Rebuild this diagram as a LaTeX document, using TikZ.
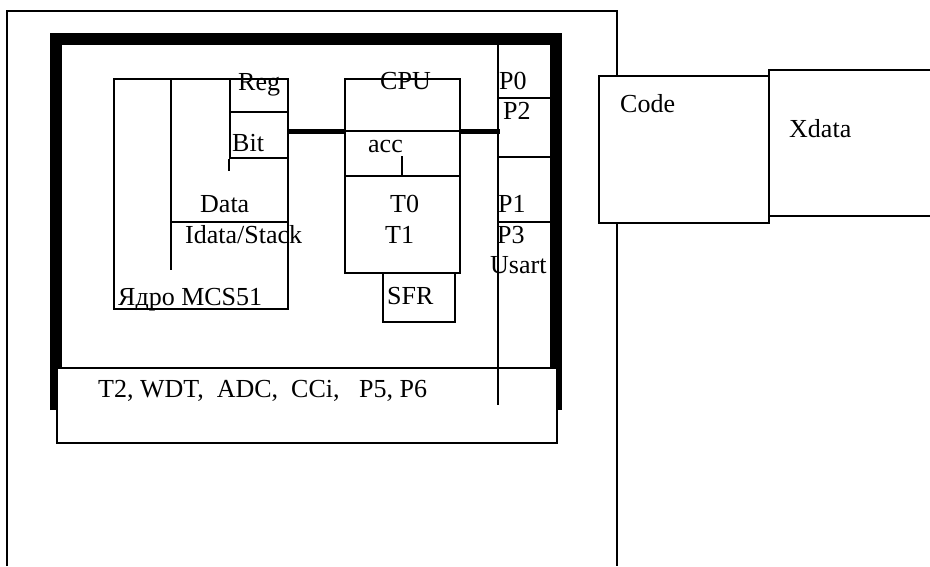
\documentclass[tikz,border=0pt]{standalone}
\usepackage{fontspec}
\setmainfont{Liberation Serif}
\usetikzlibrary{positioning,calc}

\begin{document}
\begin{tikzpicture}[x=1pt, y=-1pt,
    blk/.style={rectangle, draw, line width=1.5pt, fill=white, inner sep=0pt, anchor=north west},
    lbl/.style={inner sep=0pt, anchor=base west, font=\fontsize{26}{28}\selectfont},
    wire/.style={line width=1.5pt},
    bus/.style={line width=5pt},
    rim/.style={line width=12pt}
]
\useasboundingbox (0,0) rectangle (930,566);

% Plata (open at the bottom)
\draw[wire] (7,566) |- (617,11) -- (617,566);

% === MICROCONTROLLER ===
\draw[rim] (56,410) |- (555.5,39) -- (555.5,410);
\node (periph) [blk, minimum width=500pt, minimum height=75pt] at (56,367) {};
\node (tPeriph) [lbl] at (98,397) {T2, WDT,\ \ ADC,\ \ CCi,\ \ \ P5, P6};

% === CORE MEMORY ===
\node (core) [blk, minimum width=174pt, minimum height=230pt] at (113,78) {};
\node (reg) [blk, minimum width=58pt, minimum height=33pt] at (229,78) {};
\node (bit) [blk, minimum width=58pt, minimum height=46pt] at (229,111) {};
\draw[wire] (bit.south west) -- ++(0,12);
\draw[wire] (171,78) -- (171,270);
\draw[wire] (171,222) -- (core.east |- 0,222);

\node (tReg) [lbl] at (238,90) {Reg};
\node (tBit) [lbl] at (232,151) {Bit};
\node (tData) [lbl] at (200,212) {Data};
\node (tIdata) [lbl] at (185,243) {Idata/Stack};
\node (tCore) [lbl] at (118,305) {Ядро MCS51};

% === CPU ===
\node (cpu) [blk, minimum width=115pt, minimum height=194pt] at (344,78) {};
\draw[wire] (cpu.west |- 0,131) -- (cpu.east |- 0,131);
\draw[wire] (cpu.west |- 0,176) -- (cpu.east |- 0,176);
\draw[wire] (402,156) -- (402,176);
\node (sfr) [blk, minimum width=72pt, minimum height=49pt] at (382,272) {};

\node (tCpu) [lbl] at (380,89) {CPU};
\node (tAcc) [lbl] at (368,152) {acc};
\node (tT0) [lbl] at (390,212) {T0};
\node (tT1) [lbl] at (385,243) {T1};
\node (tSfr) [lbl] at (387,304) {SFR};

% === PORTS ===
\coordinate (pbus) at (498,131);
\draw[wire] (498,45) -- (498,405);
\draw[wire] (498,98) -- (550,98);
\draw[wire] (498,157) -- (550,157);
\draw[wire] (498,222) -- (550,222);

\node (tP0) [lbl] at (499,89) {P0};
\node (tP2) [lbl] at (503,119) {P2};
\node (tP1) [lbl] at (498,212) {P1};
\node (tP3) [lbl] at (497,243) {P3};
\node (tUsart) [lbl] at (490,273) {Usart};

% Shina
\draw[bus] (bit.east |- pbus) -- (cpu.west |- pbus);
\draw[bus] (cpu.east |- pbus) -- ([xshift=2pt]pbus);

% === EXTERNAL MEMORY ===
\node (xdata) [blk, minimum width=180pt, minimum height=146pt] at (768,69) {};
\node (code) [blk, minimum width=170pt, minimum height=147pt] at (598,75) {};
\node (tCode) [lbl] at (620,112) {Code};
\node (tXdata) [lbl] at (789,137) {Xdata};

\end{tikzpicture}
\end{document}
